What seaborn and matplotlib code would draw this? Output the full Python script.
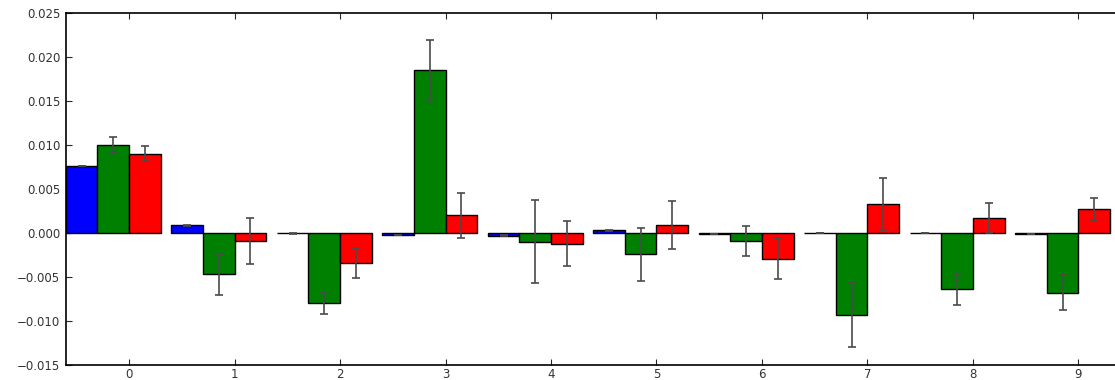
import matplotlib
matplotlib.use("Agg")
import matplotlib.pyplot as plt
import numpy as np
import pandas as pd
import seaborn as sns

# values
groups = [str(i) for i in range(10)]
series = ["blue", "green", "red"]

blue_vals = [0.0076, 0.0009, -0.00005, -0.0002, -0.0003, 0.0003, -0.0001, 0.00002, 0.00002, -0.0001]
green_vals = [0.0100, -0.0047, -0.0080, 0.0185, -0.0010, -0.0024, -0.0009, -0.0093, -0.0064, -0.0068]
red_vals = [0.0090, -0.0009, -0.0034, 0.0020, -0.0012, 0.0009, -0.0029, 0.0033, 0.0017, 0.0027]

blue_err = [0.00003, 0.00005, 0.00003, 0.00003, 0.00003, 0.00005, 0.00003, 0.00003, 0.00003, 0.00003]
green_err = [0.0009, 0.0023, 0.0012, 0.0034, 0.0047, 0.0030, 0.0017, 0.0036, 0.0018, 0.0020]
red_err = [0.00085, 0.0026, 0.0017, 0.0026, 0.0026, 0.0027, 0.0023, 0.0030, 0.0017, 0.0013]

colors = ["#0000ff", "#008000", "#ff0000"]

df = pd.DataFrame({
    "group": groups * 3,
    "series": np.repeat(series, len(groups)),
    "value": blue_vals + green_vals + red_vals,
})
errs = [blue_err, green_err, red_err]

sns.set_style("ticks")
plt.rcParams["font.family"] = ["DejaVu Sans"]

fig = plt.figure(figsize=(11.15, 3.8), dpi=100)
ax = fig.add_axes([0.059, 0.0395, 0.946, 0.926])

sns.barplot(
    data=df, x="group", y="value", hue="series", order=groups,
    hue_order=series, palette=colors, errorbar=None, width=0.9,
    saturation=1, edgecolor="black", linewidth=1, legend=False, ax=ax,
)

# error bars on top of each bar
for container, err in zip(ax.containers, errs):
    xs = [p.get_x() + p.get_width() / 2 for p in container.patches]
    ys = [p.get_y() + p.get_height() for p in container.patches]
    ax.errorbar(xs, ys, yerr=err, fmt="none", ecolor="#4a4a4a",
                elinewidth=1.2, capsize=3, capthick=1.2, zorder=5)

# the original bars sit edge-aligned: ticks fall at the red bar's left edge
ax.set_xticks(np.arange(len(groups)) + 0.15)
ax.set_xticklabels(groups)
ax.set_xlim(-0.45, 9.55)
ax.set_ylim(-0.015, 0.025)
yt = np.arange(-0.015, 0.0251, 0.005)
ax.set_yticks(yt)
ax.set_yticklabels([f"{v:.3f}".replace("-", "\u2212") for v in yt])
ax.set_xlabel("")
ax.set_ylabel("")

for s in ax.spines.values():
    s.set_visible(True)
    s.set_linewidth(1.2)
    s.set_color("black")
ax.tick_params(direction="in", top=True, right=True, length=4, width=0.8,
               labelsize=8.5, labelcolor="#333333")
ax.tick_params(axis="x", pad=2)
ax.tick_params(axis="y", pad=4)

fig.savefig("out.png", dpi=100)
